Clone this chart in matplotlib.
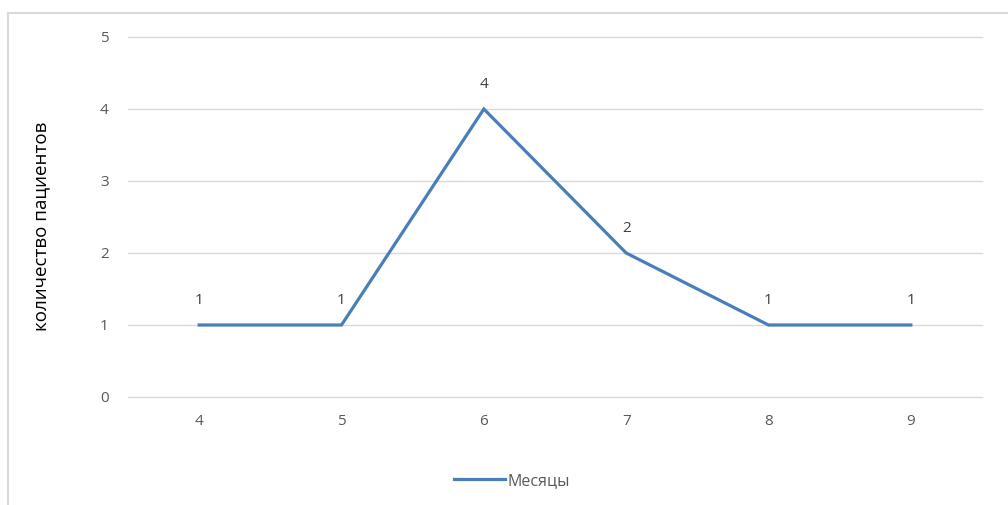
import matplotlib
matplotlib.use("Agg")
import matplotlib.pyplot as plt

plt.rcParams['font.family'] = ['Open Sans', 'DejaVu Sans']

months = ["4", "5", "6", "7", "8", "9"]
patients = [1, 1, 4, 2, 1, 1]
y_ticks = [0, 1, 2, 3, 4, 5]

W, H = 1008, 505
fig = plt.figure(figsize=(W / 100, H / 100), dpi=100)

# outer chart frame (open on right and bottom edges)
fig.add_artist(plt.Line2D([8 / W, 8 / W], [0, 1 - 13 / H], color="#d9d9d9", lw=1.5,
                          transform=fig.transFigure))
fig.add_artist(plt.Line2D([8 / W, 1], [1 - 13 / H, 1 - 13 / H], color="#d9d9d9", lw=1.5,
                          transform=fig.transFigure))

left, right = 128 / W, 982 / W
top, bottom = 1 - 37 / H, 1 - 397 / H
ax = fig.add_axes([left, bottom, right - left, top - bottom])

x = list(range(len(months)))
line_color = "#4a7ebb"
ax.plot(x, patients, color=line_color, lw=2.3, solid_joinstyle="miter", label="Месяцы",
        clip_on=False, zorder=3)

for xi, v in zip(x, patients):
    ax.annotate(str(v), (xi, v), xytext=(0, 12), textcoords="offset points",
                ha="center", va="bottom", fontsize=11, color="#404040")

ax.set_xlim(-0.5, len(months) - 0.5)
ax.set_ylim(0, 5)
ax.set_xticks(x)
ax.set_xticklabels(months)
ax.set_yticks(y_ticks)
ax.grid(axis="y", color="#d9d9d9", lw=1)
for gl in ax.get_ygridlines():
    gl.set_clip_on(False)
ax.set_axisbelow(True)
for s in ax.spines.values():
    s.set_visible(False)
ax.tick_params(axis="both", length=0, labelsize=11, colors="#595959")
ax.tick_params(axis="y", pad=14)
ax.tick_params(axis="x", pad=12)

fig.text(41 / W, 1 - 226 / H, "количество пациентов", rotation=90, ha="center",
         va="center", fontsize=13.5, color="#000000")

leg = fig.legend(loc="center", bbox_to_anchor=(512 / W, 1 - 481 / H), frameon=False,
                 fontsize=11.5, handlelength=3.2, handletextpad=0.2, labelcolor="#595959")

fig.savefig("out.png", dpi=100)
